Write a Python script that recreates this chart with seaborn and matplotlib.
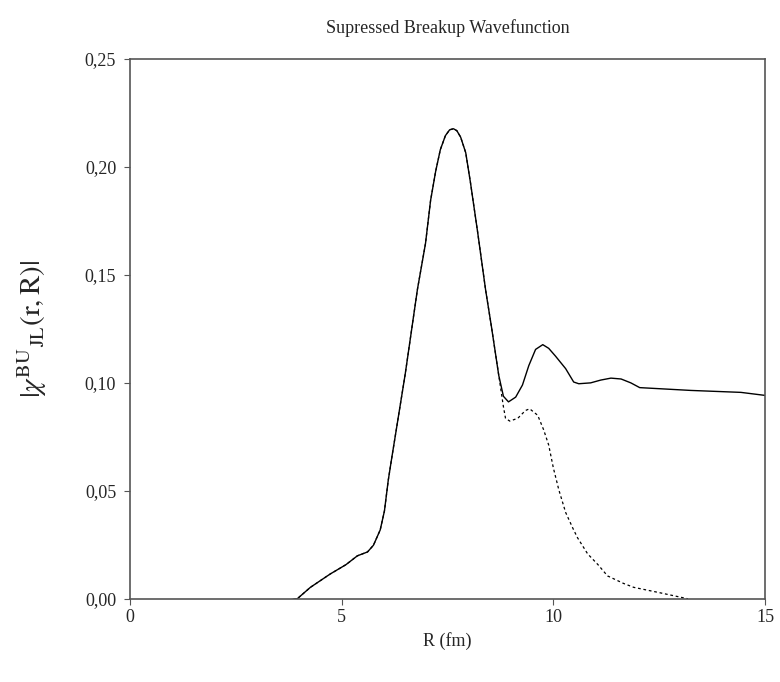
import numpy as np
import pandas as pd
import seaborn as sns
import matplotlib
matplotlib.use("Agg")
import matplotlib.pyplot as plt
from matplotlib.ticker import FuncFormatter

# shared part of both wavefunctions (up to the split near R ~ 8.7 fm)
r_common = [3.6, 3.95, 4.26, 4.73, 5.1, 5.37, 5.61, 5.75, 5.91, 6.01, 6.10, 6.17,
            6.5, 6.79, 6.98, 7.1, 7.22, 7.33, 7.45, 7.55, 7.64, 7.72, 7.81, 7.93,
            8.04, 8.21, 8.4, 8.54, 8.71]
chi_common = [-0.001, 0.0, 0.0053, 0.0115, 0.0158, 0.0199, 0.0217, 0.0248, 0.0319,
              0.0407, 0.0549, 0.0637, 0.104, 0.1434, 0.1646, 0.1845, 0.198, 0.208,
              0.2145, 0.2172, 0.2177, 0.2168, 0.2138, 0.2066, 0.193, 0.170, 0.143,
              0.1257, 0.1035]

# full breakup wavefunction (solid), tail
r_full_tail = [8.82, 8.94, 9.11, 9.27, 9.42, 9.58, 9.75, 9.89, 10.05, 10.29, 10.48,
               10.6, 10.88, 11.12, 11.36, 11.6, 11.83, 12.04, 13.25, 14.43, 15.0]
chi_full_tail = [0.0938, 0.0912, 0.0934, 0.099, 0.108, 0.1155, 0.1177, 0.116, 0.1124,
                 0.1066, 0.1004, 0.0996, 0.100, 0.1013, 0.1022, 0.1018, 0.100, 0.0978,
                 0.0965, 0.0956, 0.0942]

# supressed breakup wavefunction (dashed), tail
r_sup_tail = [8.82, 8.87, 8.97, 9.16, 9.34, 9.44, 9.63, 9.77, 9.89, 10.0, 10.13,
              10.29, 10.46, 10.57, 10.81, 11.05, 11.28, 11.66, 11.9, 12.54, 13.18]
chi_sup_tail = [0.089, 0.0836, 0.0823, 0.0836, 0.0872, 0.088, 0.085, 0.0783, 0.0712,
                0.0606, 0.0504, 0.040, 0.0327, 0.0283, 0.0208, 0.0159, 0.0106, 0.0071,
                0.0053, 0.0027, 0.0]

df_full = pd.DataFrame({"R": r_common + r_full_tail, "chi": chi_common + chi_full_tail})
df_sup = pd.DataFrame({"R": r_common + r_sup_tail, "chi": chi_common + chi_sup_tail})

sns.set_style("white")
plt.rcParams['font.family'] = ['Liberation Serif', 'DejaVu Serif']
plt.rcParams['mathtext.fontset'] = 'stix'

fig = plt.figure(figsize=(7.8, 6.82), dpi=100)
ax = fig.add_axes([0.1667, 0.122, 0.8141, 0.7915])

sns.lineplot(data=df_sup, x="R", y="chi", ax=ax, color="black", lw=0.9,
             linestyle=(0, (2.2, 2.2)), sort=False, estimator=None)
sns.lineplot(data=df_full, x="R", y="chi", ax=ax, color="black", lw=1.0,
             sort=False, estimator=None)

ax.set_xlim(0, 15)
ax.set_ylim(0, 0.25)
ax.set_xticks([0, 5, 10, 15])
ax.set_yticks([0, 0.05, 0.10, 0.15, 0.20, 0.25])
ax.yaxis.set_major_formatter(FuncFormatter(lambda v, p: f"{v:.2f}".replace(".", ",")))
ax.tick_params(direction="out", length=4, width=0.8, color="#555555",
               labelsize=13, bottom=True, left=True, pad=3)
ax.tick_params(axis="y", pad=6)
for s in ax.spines.values():
    s.set_color("#555555")
    s.set_linewidth(1.2)

ax.set_xlabel("R (fm)", fontsize=13, labelpad=5)
ax.set_ylabel(r"$|\chi^{\mathrm{BU}}{}_{\mathrm{JL}}\mathrm{(r,R)}|$", fontsize=21, labelpad=26)
ax.set_title("Supressed Breakup Wavefunction", fontsize=13, pad=19)

fig.savefig("out.png", dpi=100)
